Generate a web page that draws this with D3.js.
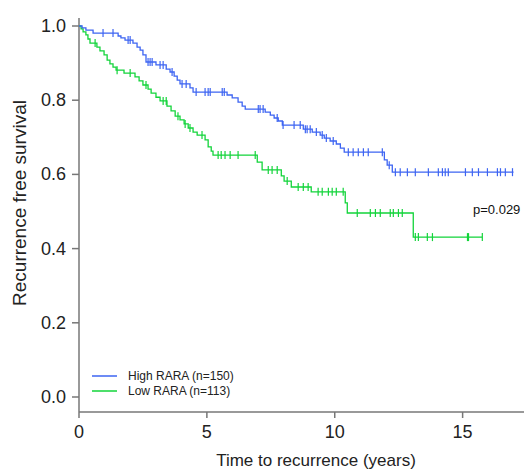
<!DOCTYPE html>
<html>
<head>
<meta charset="utf-8">
<script src="https://cdn.jsdelivr.net/npm/d3@7"></script>
<style>
  body { margin: 0; background: #fff; }
  text { font-family: "Liberation Sans", Arial, sans-serif; }
</style>
</head>
<body>
<div id="chart"></div>
<script>
// Kaplan-Meier: recurrence free survival by RARA level

// High RARA (n=150): drop times + survival after each drop
const highTimes = [0.12,0.27,0.55,1.53,1.64,1.80,2.11,2.27,2.39,2.50,2.62,3.01,3.41,3.56,3.72,3.84,3.95,4.34,4.46,
  5.79,5.99,6.22,6.38,6.50,7.28,7.48,7.63,7.79,7.95,8.77,9.12,9.43,9.59,9.82,10.06,10.22,10.37,11.94,12.05,12.25];
const highSurv = [0.995,0.989,0.981,0.973,0.968,0.962,0.954,0.943,0.935,0.922,0.903,0.895,0.884,0.876,0.865,0.854,0.844,0.833,0.822,
  0.814,0.806,0.795,0.784,0.776,0.768,0.760,0.752,0.744,0.733,0.722,0.714,0.706,0.698,0.690,0.682,0.671,0.660,0.639,0.625,0.606];
const highCensor = [0.94,1.33,1.92,2.00,2.70,2.78,2.86,3.17,3.29,3.64,4.03,4.19,4.58,4.93,5.05,5.13,5.60,5.68,7.01,7.08,7.20,
  7.75,7.98,8.41,8.65,8.85,8.92,9.04,9.28,9.51,9.67,9.94,10.53,10.72,10.92,11.12,11.31,11.86,12.13,12.37,12.56,12.84,13.15,
  13.66,14.05,14.21,14.32,14.44,15.11,15.38,15.62,15.97,16.36,16.48,16.67,16.95];
const highEnd = 16.99;

// Low RARA (n=113)
const lowTimes = [0.08,0.16,0.27,0.35,0.43,0.70,0.82,0.98,1.10,1.21,1.33,1.45,1.76,2.19,2.35,2.50,2.70,2.82,3.01,3.17,3.44,3.60,
  3.76,3.95,4.11,4.27,4.46,4.62,4.93,5.05,5.17,5.24,6.97,7.16,7.91,8.02,8.30,9.08,10.41,10.49,13.07];
const lowSurv = [0.992,0.984,0.976,0.965,0.954,0.943,0.933,0.922,0.908,0.898,0.889,0.881,0.873,0.863,0.852,0.841,0.830,0.819,0.808,
  0.798,0.784,0.771,0.757,0.747,0.736,0.725,0.714,0.706,0.693,0.674,0.663,0.652,0.633,0.612,0.596,0.582,0.566,0.553,0.523,0.496,0.431];
const lowCensor = [0.63,1.49,2.00,2.62,3.29,3.41,3.87,4.15,4.34,4.81,5.44,5.56,5.71,5.91,6.22,6.89,7.40,7.55,7.75,8.14,8.57,8.77,
  8.96,9.35,9.51,9.75,9.90,10.06,10.33,10.88,11.39,11.59,11.78,12.17,12.29,12.49,12.64,13.15,13.27,13.62,13.82,15.19,15.23,15.77];
const lowEnd = 15.77;

const xTicks = [0, 5, 10, 15];
const yTicks = [0, 0.2, 0.4, 0.6, 0.8, 1.0];

const groups = [
  { name: "High RARA (n=150)", times: highTimes, surv: highSurv, censor: highCensor, end: highEnd, color: "#3d64f2" },
  { name: "Low RARA (n=113)", times: lowTimes, surv: lowSurv, censor: lowCensor, end: lowEnd, color: "#12d43a" }
];

const W = 524, H = 470;
const svg = d3.select("#chart").append("svg").attr("width", W).attr("height", H);

const x = d3.scaleLinear().domain([0, 17.4]).range([79, 524]);
const y = d3.scaleLinear().domain([0, 1]).range([397, 26]);
const axisY = 412;
const axisCol = "#777";

// axes lines
svg.append("line").attr("x1", 79).attr("x2", 524).attr("y1", axisY).attr("y2", axisY)
  .attr("stroke", axisCol).attr("stroke-width", 1.5);
svg.append("line").attr("x1", 79).attr("x2", 79).attr("y1", 18).attr("y2", axisY)
  .attr("stroke", axisCol).attr("stroke-width", 1.5);

// x ticks
svg.append("g").selectAll("line").data(xTicks).enter().append("line")
  .attr("x1", d => x(d)).attr("x2", d => x(d)).attr("y1", axisY).attr("y2", axisY + 6)
  .attr("stroke", axisCol).attr("stroke-width", 1.5);
svg.append("g").selectAll("text").data(xTicks).enter().append("text")
  .attr("x", d => x(d)).attr("y", axisY + 26).attr("text-anchor", "middle")
  .style("font-size", "18px").attr("fill", "#222").text(d => d);

// y ticks
svg.append("g").selectAll("line").data(yTicks).enter().append("line")
  .attr("x1", 72).attr("x2", 79).attr("y1", d => y(d)).attr("y2", d => y(d))
  .attr("stroke", axisCol).attr("stroke-width", 1.5);
svg.append("g").selectAll("text").data(yTicks).enter().append("text")
  .attr("x", 66).attr("y", d => y(d) + 6).attr("text-anchor", "end")
  .style("font-size", "18px").attr("fill", "#222").text(d => d3.format(".1f")(d));

// axis titles
svg.append("text").attr("x", 316).attr("y", 466).attr("text-anchor", "middle")
  .style("font-size", "17px").attr("fill", "#222").text("Time to recurrence (years)");
svg.append("text").attr("transform", "translate(26,203) rotate(-90)").attr("text-anchor", "middle")
  .style("font-size", "19px").attr("fill", "#222").text("Recurrence free survival");

// curves
const line = d3.line().x(d => x(d[0])).y(d => y(d[1])).curve(d3.curveStepAfter);

function survAt(g, t){
  let s = 1;
  g.times.forEach((tt, i) => { if (tt <= t) s = g.surv[i]; });
  return s;
}

groups.slice().reverse().forEach(g => {
  const pts = [[0, 1]].concat(g.times.map((t, i) => [t, g.surv[i]]));
  pts.push([g.end, g.surv[g.surv.length - 1]]);
  svg.append("path").datum(pts).attr("d", line)
    .attr("fill", "none").attr("stroke", g.color).attr("stroke-width", 1.3);
  svg.append("g").selectAll("line").data(g.censor).enter().append("line")
    .attr("x1", d => x(d)).attr("x2", d => x(d))
    .attr("y1", d => y(survAt(g, d)) - 4).attr("y2", d => y(survAt(g, d)) + 4)
    .attr("stroke", g.color).attr("stroke-width", 1.2);
});

// legend
const leg = svg.append("g");
groups.forEach((g, i) => {
  const ly = 376 + i * 15;
  leg.append("line").attr("x1", 92).attr("x2", 117).attr("y1", ly).attr("y2", ly)
    .attr("stroke", g.color).attr("stroke-width", 1.5);
  leg.append("text").attr("x", 128).attr("y", ly + 4).style("font-size", "12px")
    .attr("fill", "#222").text(g.name);
});

// p value
svg.append("text").attr("x", 473).attr("y", 214).style("font-size", "13px")
  .attr("fill", "#111").text("p=0.029");
</script>
</body>
</html>
